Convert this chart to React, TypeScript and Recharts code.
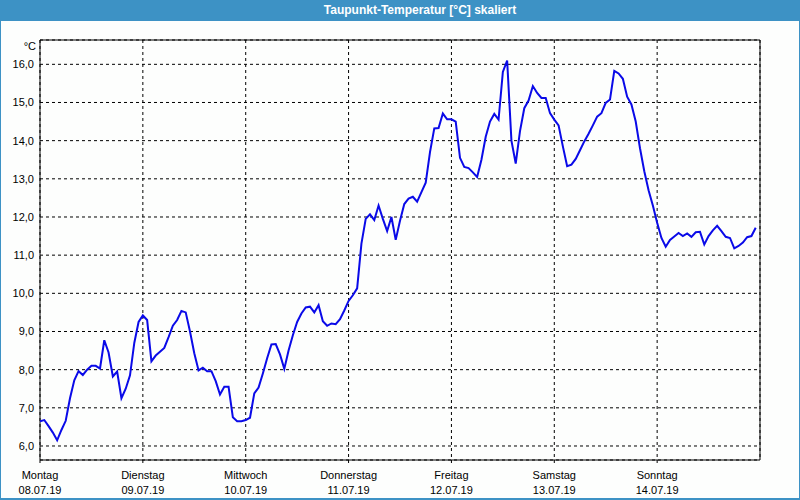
import { LineChart, Line, XAxis, YAxis, CartesianGrid, ReferenceArea } from 'recharts'

// hourly dew point values, Mon 08.07.19 00:00 to Sun 14.07.19 23:00
const dewPoint = [
  6.65, 6.68, 6.52, 6.35, 6.15, 6.42, 6.66, 7.25, 7.72, 7.96, 7.86, 8.0,
  8.1, 8.1, 8.03, 8.77, 8.45, 7.82, 7.95, 7.25, 7.5, 7.85, 8.7, 9.25,
  9.42, 9.3, 8.22, 8.37, 8.47, 8.57, 8.85, 9.15, 9.3, 9.54, 9.5, 9.0,
  8.43, 7.98, 8.05, 7.96, 7.96, 7.7, 7.35, 7.55, 7.55, 6.75, 6.65, 6.65,
  6.68, 6.74, 7.38, 7.53, 7.9, 8.3, 8.66, 8.67, 8.4, 8.02, 8.5, 8.9,
  9.25, 9.47, 9.63, 9.65, 9.5, 9.69, 9.27, 9.15, 9.21, 9.19, 9.32, 9.55,
  9.8, 9.95, 10.13, 11.3, 11.95, 12.07, 11.92, 12.3, 11.95, 11.63, 12.0, 11.4,
  11.9, 12.34, 12.48, 12.53, 12.4, 12.65, 12.9, 13.7, 14.32, 14.33, 14.71, 14.56,
  14.56, 14.5, 13.55, 13.31, 13.28, 13.17, 13.05, 13.5, 14.1, 14.5, 14.7, 14.55,
  15.8, 16.1, 14.0, 13.4, 14.25, 14.85, 15.05, 15.43, 15.25, 15.12, 15.12, 14.72,
  14.55, 14.4, 13.85, 13.33, 13.37, 13.52, 13.75, 13.98, 14.18, 14.4, 14.63, 14.72,
  14.99, 15.08, 15.83, 15.76, 15.62, 15.15, 14.95, 14.5, 13.8, 13.2, 12.7, 12.3,
  11.85, 11.45, 11.22, 11.4, 11.49, 11.58, 11.5, 11.57, 11.48, 11.6, 11.61, 11.28,
  11.5, 11.65, 11.77, 11.63, 11.48, 11.45, 11.18, 11.24, 11.33, 11.47, 11.5, 11.72,
]

const dayTicks = [0, 24, 48, 72, 96, 120, 144]
const dayNames = ['Montag', 'Dienstag', 'Mittwoch', 'Donnerstag', 'Freitag', 'Samstag', 'Sonntag']
const dayDates = ['08.07.19', '09.07.19', '10.07.19', '11.07.19', '12.07.19', '13.07.19', '14.07.19']
const tempTicks = [6, 7, 8, 9, 10, 11, 12, 13, 14, 15, 16]

const Y_MIN = 5.633
const Y_MAX = 16.637
const X_MAX = 168

const font = 'Liberation Sans, Arial, sans-serif'

const data = dewPoint.map((v, i) => ({ h: i, v }))

function DayTick(props: any) {
  const { x, y, payload } = props
  const i = dayTicks.indexOf(payload.value)
  return (
    <text x={x} y={y} textAnchor="middle" fontSize={11} fontFamily={font} fill="#000">
      <tspan x={x} dy={14}>{dayNames[i]}</tspan>
      <tspan x={x} dy={14.5}>{dayDates[i]}</tspan>
    </text>
  )
}

function UnitLabel(props: any) {
  const vb = props.viewBox
  return (
    <text x={vb.x + vb.width - 4} y={vb.y + 10} textAnchor="end" fontSize={11} fontFamily={font} fill="#000">
      °C
    </text>
  )
}

export default function App() {
  return (
    <div style={{ position: 'fixed', left: 0, top: 0, width: 800, height: 500, background: '#fdfefd', overflow: 'hidden' }}>
      <div style={{ position: 'absolute', left: 0, top: 0 }}>
        <LineChart width={800} height={500} data={data} margin={{ top: 40, right: 40, bottom: 0, left: 0 }}>
          <CartesianGrid stroke="#000" strokeDasharray="3 3" />
          <XAxis
            dataKey="h"
            type="number"
            domain={[0, X_MAX]}
            ticks={dayTicks}
            allowDataOverflow
            height={40}
            axisLine={false}
            tickLine={{ stroke: '#000' }}
            tickSize={3}
            tickMargin={2}
            tick={<DayTick />}
            interval={0}
          />
          <YAxis
            type="number"
            domain={[Y_MIN, Y_MAX]}
            ticks={tempTicks}
            allowDataOverflow
            width={40}
            axisLine={false}
            tickLine={false}
            tickSize={6}
            tickMargin={0}
            interval={0}
            tick={{ fontSize: 11, fontFamily: font, fill: '#000' }}
            tickFormatter={(v: number) => v.toFixed(1).replace('.', ',')}
            label={<UnitLabel />}
          />
          <Line
            type="linear"
            dataKey="v"
            stroke="#0a0ae8"
            strokeWidth={2}
            dot={false}
            isAnimationActive={false}
          />
          <ReferenceArea x1={0} x2={X_MAX} y1={Y_MIN} y2={Y_MAX} fill="none" stroke="#000" strokeWidth={1} ifOverflow="visible" />
        </LineChart>
      </div>
      <div
        style={{
          position: 'absolute', left: 0, top: 0, width: 800, height: 21, background: '#3d92c5',
          color: '#fff', fontFamily: font, fontWeight: 'bold', fontSize: 12, lineHeight: '21px',
          textAlign: 'center', paddingLeft: 40, boxSizing: 'border-box',
        }}
      >
        Taupunkt-Temperatur [°C] skaliert
      </div>
      <div
        style={{
          position: 'absolute', left: 0, top: 0, width: 800, height: 500, boxSizing: 'border-box',
          borderLeft: '1px solid #3d92c5', borderRight: '1px solid #3d92c5', borderBottom: '2px solid #3d92c5',
          pointerEvents: 'none',
        }}
      />
    </div>
  )
}
